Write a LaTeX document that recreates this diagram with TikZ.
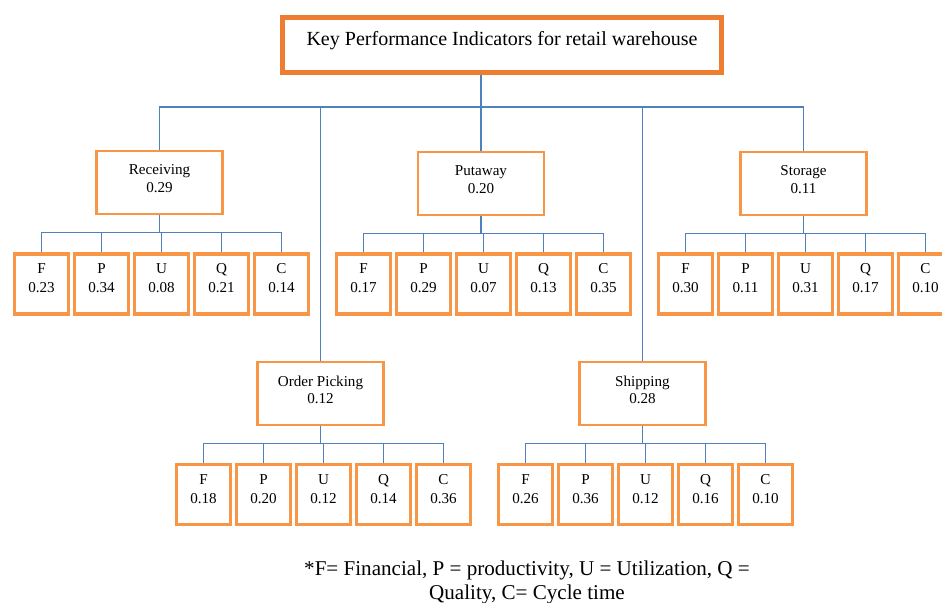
\documentclass[tikz,border=0pt]{standalone}
\usepackage{fontspec}
\setmainfont{Liberation Serif}
\definecolor{boxorange}{HTML}{F79646}
\definecolor{titleorange}{HTML}{ED7D31}
\definecolor{linkblue}{HTML}{4F81BD}

\begin{document}
\begin{tikzpicture}[
    x=0.02cm, y=-0.02cm,
    topbox/.style={draw=titleorange, line width=2.8pt, minimum width=8.78cm, minimum height=1.1cm, text depth=8pt, font=\fontsize{11.4}{13}\selectfont},
    catbox/.style={draw=boxorange, line width=1.6pt, minimum width=2.52cm, minimum height=1.26cm, align=center, text depth=4.5pt, font=\fontsize{8.6}{9.8}\selectfont},
    subbox/.style={draw=boxorange, line width=2pt, minimum width=1.08cm, minimum height=1.2cm, align=center, text depth=6.5pt, font=\fontsize{8.6}{10.8}\selectfont},
    link/.style={draw=linkblue, line width=0.9pt}
]
\useasboundingbox (0,0) rectangle (942,602);

\node[topbox] (kpi) at (502,45) {Key Performance Indicators for retail warehouse};

\node[catbox] (rec) at (159.5,182.5) {Receiving\\0.29};
\node[catbox] (put) at (481,183.5) {Putaway\\0.20};
\node[catbox] (sto) at (803.5,183.5) {Storage\\0.11};
\node[catbox] (ord) at (320.5,393.5) {Order Picking\\0.12};
\node[catbox] (shp) at (642.5,393.5) {Shipping\\0.28};

\foreach \l/\v [count=\i] in {F/0.23,P/0.34,U/0.08,Q/0.21,C/0.14}
    \node[subbox] (rec\i) at ({41.5+60*(\i-1)},284) {\l\\\v};
\foreach \l/\v [count=\i] in {F/0.17,P/0.29,U/0.07,Q/0.13,C/0.35}
    \node[subbox] (put\i) at ({363.5+60*(\i-1)},284) {\l\\\v};
\foreach \l/\v [count=\i] in {F/0.30,P/0.11,U/0.31,Q/0.17,C/0.10}
    \node[subbox] (sto\i) at ({685.5+60*(\i-1)},284) {\l\\\v};
\foreach \l/\v [count=\i] in {F/0.18,P/0.20,U/0.12,Q/0.14,C/0.36}
    \node[subbox] (ord\i) at ({203.5+60*(\i-1)},494.5) {\l\\\v};
\foreach \l/\v [count=\i] in {F/0.26,P/0.36,U/0.12,Q/0.16,C/0.10}
    \node[subbox] (shp\i) at ({525.5+60*(\i-1)},494.5) {\l\\\v};

% top level bus
\coordinate (bus) at (481,107);
\draw[link] (kpi.south -| bus) -- (bus) -- (put.north);
\foreach \n in {rec,ord,shp,sto}
    \draw[link] (bus) -| (\n.north);

\foreach \g in {rec,put,sto,ord,shp}
    \foreach \i in {1,...,5}
        \draw[link] (\g.south) -- ++(0,17) -| (\g\i.north);

\node[align=center, font=\fontsize{12}{13.6}\selectfont] (note) at (527,582)
    {*F= Financial, P = productivity, U = Utilization, Q =\\Quality, C= Cycle time};

\end{tikzpicture}
\end{document}
